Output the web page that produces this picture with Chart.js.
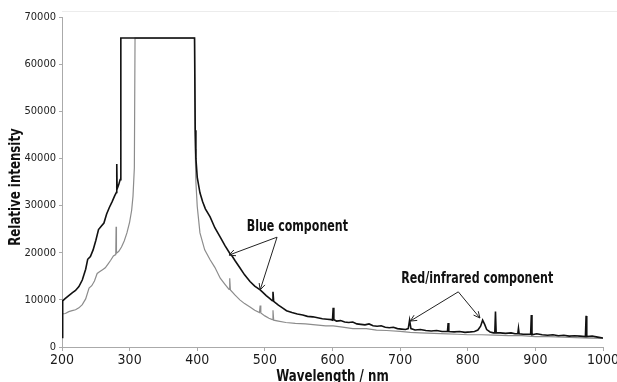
<!DOCTYPE html>
<html>
<head>
<meta charset="utf-8">
<script src="https://cdn.jsdelivr.net/npm/chart.js@4.4.1/dist/chart.umd.min.js"></script>
<style>
  html, body { margin: 0; padding: 0; background: #fff; overflow: hidden; }
  canvas { display: block; }
</style>
</head>
<body>
<canvas id="myChart" width="617" height="382"></canvas>
<script>
// wavelength (nm) / intensity pairs
const blackWl = [200,201,205,210,215,220,225,230,235,238,242,246,250,254,258,262,266,270,274,278,280.5,281,281.5,284,286,287,
  396,397,398,400,404,408,412,419,426,434,441,448,452,456,463,470,478,485,493,497,502,507,511,512,513,520,526,532,540,548,556,563,571,578,585,592,598,
  600,601,602,606,612,618,624,630,636,642,648,654,660,666,672,678,684,690,696,702,708,712,714,716,722,730,738,746,754,762,770,771,772,780,788,796,
  804,810,815,819,822,825,828,833,838,840,841,842,848,856,864,870,874,875,876,882,888,893,894,895,902,910,918,926,934,942,950,958,966,974,975,976,984,992,1000];
const blackVal = [2000,9800,10300,10900,11500,12000,12800,14200,16500,18600,19200,20600,22600,24900,25600,26300,28200,29600,30800,32100,32800,38800,33500,34500,35500,65535,
  65535,46000,40000,36000,32700,30800,29300,27600,25300,23300,21500,19900,19200,18300,16800,15300,13900,12900,12100,11600,10900,10300,9800,11700,9700,8900,8300,7700,7300,7000,6800,6500,6400,6200,6000,5900,5800,
  5700,8300,5800,5500,5600,5300,5200,5300,4900,4800,4700,4900,4500,4400,4500,4200,4100,4200,3900,3800,3700,3900,5700,3900,3600,3700,3500,3400,3500,3300,3300,5100,3300,3200,3300,3100,
  3200,3300,3600,4400,5700,4800,3700,3200,3000,3000,7500,3000,3000,2900,3000,2800,2800,4000,2800,2700,2700,2700,6800,2600,2800,2600,2500,2600,2400,2500,2300,2400,2300,2200,6600,2200,2300,2100,1900];

const grayWl = [200,205,210,215,220,225,230,235,240,244,248,252,256,260,264,268,272,276,279.5,280,280.5,284,288,292,296,300,303,305,307,308,
  396,397,398,400,404,411,419,426,434,441,447,448,449,456,463,470,478,485,492,493,494,500,506,511,512,513,520,531,545,560,575,590,601,615,630,650,665,680,700,
  715,730,750,770,785,800,820,840,860,880,900,920,940,960,980,1000];
const grayVal = [7000,7100,7500,7700,7900,8300,9000,10200,12500,13000,14000,15600,16000,16400,16800,17600,18400,19300,19600,25500,19900,20300,21200,22500,24200,26500,29000,32000,38000,65535,
  65535,42000,35000,29800,24200,20600,18500,16900,14600,13300,12200,14600,12100,11000,10000,9200,8500,7800,7300,8800,7200,6600,6100,5800,7800,5700,5500,5200,5000,4900,4700,4500,4500,4200,3900,3900,3600,3500,3300,
  3100,3000,2900,2800,2700,2600,2600,2500,2400,2400,2200,2200,2100,2000,1900,1800];

const xTicks = [200,300,400,500,600,700,800,900,1000];
const yTicks = [0,10000,20000,30000,40000,50000,60000,70000];

const FONT = '"DejaVu Sans Condensed", "DejaVu Sans", sans-serif';
const SQUEEZE = 0.82; // the original type is a narrow face

// callout text and arrows, in data coordinates
const notes = [
  { text: 'Blue component', at: [548, 25400], from: [518, 23300], tips: [[447, 19500], [493, 12100]] },
  { text: 'Red/infrared component', at: [814, 14400], from: [786, 11700], tips: [[715, 5500], [818, 6150]] }
];

function narrowText(c, text, x, y, rot) {
  c.save();
  c.translate(x, y);
  if (rot) c.rotate(rot);
  c.scale(SQUEEZE, 1);
  c.fillText(text, 0, 0);
  c.restore();
}

const notePlugin = {
  id: 'notes',
  afterDraw(chart) {
    const c = chart.ctx, xs = chart.scales.x, ys = chart.scales.y, area = chart.chartArea;
    c.save();
    // faint frame line along the top
    c.strokeStyle = '#ececec';
    c.lineWidth = 1;
    c.beginPath();
    c.moveTo(area.left, 11.5);
    c.lineTo(617, 11.5);
    c.stroke();

    c.fillStyle = '#111';
    c.textAlign = 'center';
    c.textBaseline = 'middle';
    c.font = 'bold 16px ' + FONT;
    narrowText(c, 'Wavelength / nm', (area.left + area.right) / 2, 377);
    narrowText(c, 'Relative intensity', 16, (area.top + area.bottom) / 2 + 5, -Math.PI / 2);

    c.strokeStyle = '#222';
    c.font = 'bold 15px ' + FONT;
    notes.forEach(n => {
      narrowText(c, n.text, xs.getPixelForValue(n.at[0]), ys.getPixelForValue(n.at[1]));
      const fx = xs.getPixelForValue(n.from[0]), fy = ys.getPixelForValue(n.from[1]);
      n.tips.forEach(t => {
        const tx = xs.getPixelForValue(t[0]), ty = ys.getPixelForValue(t[1]);
        c.beginPath();
        c.moveTo(fx, fy);
        c.lineTo(tx, ty);
        const a = Math.atan2(ty - fy, tx - fx);
        c.moveTo(tx - 7 * Math.cos(a - 0.45), ty - 7 * Math.sin(a - 0.45));
        c.lineTo(tx, ty);
        c.lineTo(tx - 7 * Math.cos(a + 0.45), ty - 7 * Math.sin(a + 0.45));
        c.stroke();
      });
    });
    c.restore();
  }
};

const ctx = document.getElementById('myChart').getContext('2d');

new Chart(ctx, {
  type: 'line',
  data: {
    datasets: [
      {
        label: 'Black',
        data: blackWl.map((w, i) => ({ x: w, y: blackVal[i] })),
        borderColor: '#111',
        borderWidth: 1.6,
        pointRadius: 0,
        tension: 0
      },
      {
        label: 'Gray',
        data: grayWl.map((w, i) => ({ x: w, y: grayVal[i] })),
        borderColor: '#8c8c8c',
        borderWidth: 1.2,
        pointRadius: 0,
        tension: 0
      }
    ]
  },
  options: {
    responsive: false,
    animation: false,
    layout: { padding: { top: 17, right: 14, left: 0, bottom: 0 } },
    scales: {
      x: {
        type: 'linear',
        min: 200,
        max: 1000,
        afterBuildTicks: s => { s.ticks = xTicks.map(v => ({ value: v })); },
        afterFit: s => { s.height = 35; s.paddingRight = 0; s.paddingLeft = 0; },
        ticks: { color: '#1a1a1a', font: { family: FONT, size: 14 }, padding: 1, maxRotation: 0, callback: v => String(v) },
        grid: { display: true, drawOnChartArea: false, drawTicks: true, tickLength: 4, color: '#aaa' },
        border: { color: '#aaa' }
      },
      y: {
        min: 0,
        max: 70000,
        afterBuildTicks: s => { s.ticks = yTicks.map(v => ({ value: v })); },
        afterFit: s => { s.width = 62; },
        ticks: { color: '#222', font: { family: FONT, size: 11 }, padding: 3, callback: v => String(v) },
        grid: { display: true, drawOnChartArea: false, drawTicks: true, tickLength: 3, color: '#aaa' },
        border: { color: '#aaa' }
      }
    },
    plugins: {
      legend: { display: false },
      tooltip: { enabled: false }
    }
  },
  plugins: [notePlugin]
});
</script>
</body>
</html>
